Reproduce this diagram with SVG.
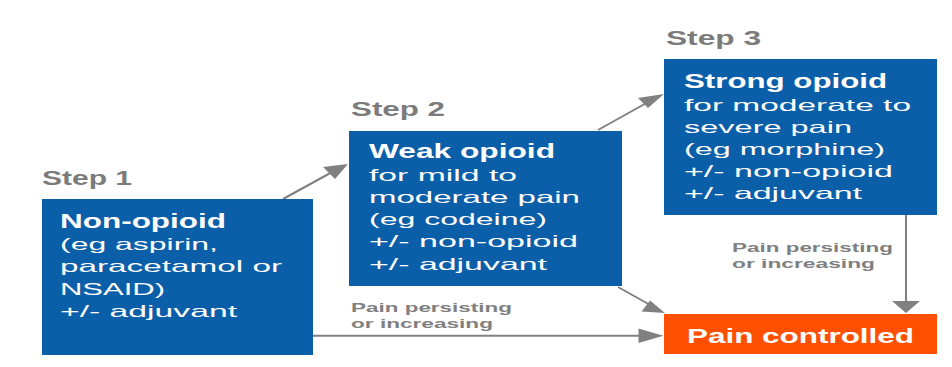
<svg xmlns="http://www.w3.org/2000/svg" width="952" height="367" viewBox="0 0 952 367">
  <style>
    .step { font-family: "Liberation Sans", Arial, sans-serif; font-weight: bold; font-size: 21px; fill: #7b7b7b; }
    .box { fill: #0b5ea8; }
    .done { fill: #ff4f00; }
    .title { font-family: "Liberation Sans", Arial, sans-serif; font-weight: bold; font-size: 20px; fill: #ffffff; }
    .body { font-family: "Liberation Sans", Arial, sans-serif; font-size: 16.5px; fill: #ffffff; }
    .note { font-family: "Liberation Sans", Arial, sans-serif; font-weight: bold; font-size: 13.5px; fill: #808080; }
    .wire { stroke: #808080; stroke-width: 2; fill: none; }
    .head { fill: #808080; }
  </style>

  <!-- step headings -->
  <text class="step" x="42" y="185" textLength="90" lengthAdjust="spacingAndGlyphs">Step 1</text>
  <text class="step" x="351" y="116" textLength="94" lengthAdjust="spacingAndGlyphs">Step 2</text>
  <text class="step" x="666" y="45" textLength="95" lengthAdjust="spacingAndGlyphs">Step 3</text>

  <!-- connectors -->
  <g id="connectors">
    <!-- step 1 -> step 2 -->
    <line class="wire" x1="283" y1="199" x2="334" y2="171"/>
    <polygon class="head" points="348,164 323,167 335,179"/>
    <!-- step 2 -> step 3 -->
    <line class="wire" x1="598" y1="130" x2="650" y2="101"/>
    <polygon class="head" points="664,94 638,98 648,108"/>
    <!-- step 2 -> pain controlled -->
    <line class="wire" x1="618" y1="287" x2="652" y2="306"/>
    <polygon class="head" points="665,313 650,300.5 641.5,311.5"/>
    <!-- step 1 -> pain controlled -->
    <line class="wire" x1="313" y1="335.7" x2="645" y2="335.7"/>
    <polygon class="head" points="663.5,335.7 638.5,328.5 638.5,342.9"/>
    <!-- step 3 -> pain controlled -->
    <line class="wire" x1="906" y1="215" x2="906" y2="304"/>
    <polygon class="head" points="906,313 892,301 920,301"/>
    <text class="note" x="351" y="312" textLength="161" lengthAdjust="spacingAndGlyphs">Pain persisting</text>
    <text class="note" x="351" y="328" textLength="142" lengthAdjust="spacingAndGlyphs">or increasing</text>
    <text class="note" x="732" y="252" textLength="161" lengthAdjust="spacingAndGlyphs">Pain persisting</text>
    <text class="note" x="732" y="268" textLength="143" lengthAdjust="spacingAndGlyphs">or increasing</text>
  </g>

  <!-- step 1 -->
  <g id="step1">
    <rect class="box" x="42" y="199" width="271" height="156"/>
    <text class="title" x="60" y="228" textLength="166" lengthAdjust="spacingAndGlyphs">Non-opioid</text>
    <text class="body" x="60" y="250" textLength="158" lengthAdjust="spacingAndGlyphs">(eg aspirin,</text>
    <text class="body" x="60" y="272" textLength="222" lengthAdjust="spacingAndGlyphs">paracetamol or</text>
    <text class="body" x="60" y="295" textLength="105" lengthAdjust="spacingAndGlyphs">NSAID)</text>
    <text class="body" x="60" y="317" textLength="177" lengthAdjust="spacingAndGlyphs">+/- adjuvant</text>
  </g>

  <!-- step 2 -->
  <g id="step2">
    <rect class="box" x="349" y="131" width="273" height="155"/>
    <text class="title" x="369" y="158" textLength="186" lengthAdjust="spacingAndGlyphs">Weak opioid</text>
    <text class="body" x="369" y="181" textLength="148" lengthAdjust="spacingAndGlyphs">for mild to</text>
    <text class="body" x="369" y="203" textLength="211" lengthAdjust="spacingAndGlyphs">moderate pain</text>
    <text class="body" x="369" y="225" textLength="178" lengthAdjust="spacingAndGlyphs">(eg codeine)</text>
    <text class="body" x="369" y="247" textLength="209" lengthAdjust="spacingAndGlyphs">+/- non-opioid</text>
    <text class="body" x="369" y="270" textLength="178" lengthAdjust="spacingAndGlyphs">+/- adjuvant</text>
  </g>

  <!-- step 3 -->
  <g id="step3">
    <rect class="box" x="664" y="59" width="273" height="156"/>
    <text class="title" x="684" y="88" textLength="203" lengthAdjust="spacingAndGlyphs">Strong opioid</text>
    <text class="body" x="684" y="111" textLength="227" lengthAdjust="spacingAndGlyphs">for moderate to</text>
    <text class="body" x="684" y="133" textLength="168" lengthAdjust="spacingAndGlyphs">severe pain</text>
    <text class="body" x="684" y="155" textLength="201" lengthAdjust="spacingAndGlyphs">(eg morphine)</text>
    <text class="body" x="684" y="177" textLength="209" lengthAdjust="spacingAndGlyphs">+/- non-opioid</text>
    <text class="body" x="684" y="199" textLength="178" lengthAdjust="spacingAndGlyphs">+/- adjuvant</text>
  </g>

  <!-- outcome -->
  <g id="pain-controlled">
    <rect class="done" x="664" y="314" width="273" height="40"/>
    <text class="title" x="687" y="343" textLength="227" lengthAdjust="spacingAndGlyphs">Pain controlled</text>
  </g>
</svg>
